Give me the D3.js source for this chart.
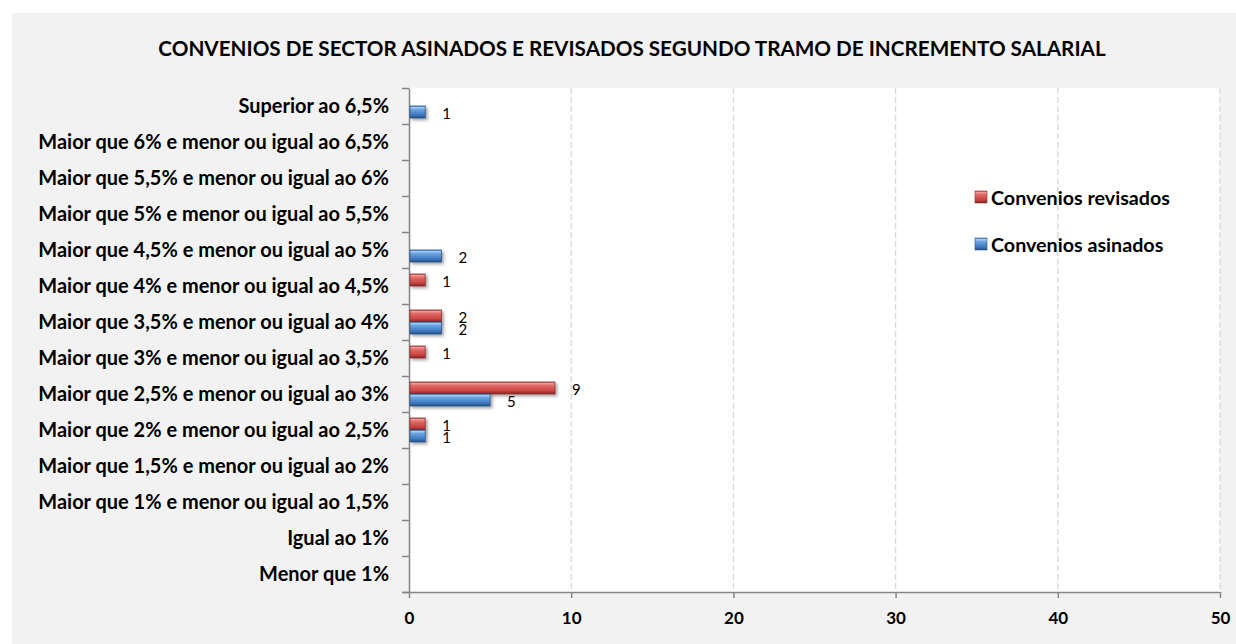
<!DOCTYPE html>
<html>
<head>
<meta charset="utf-8">
<script src="https://cdn.jsdelivr.net/npm/d3@7"></script>
<style>
  html, body { margin: 0; padding: 0; background: #ffffff; }
  svg { display: block; }
</style>
</head>
<body>
<svg id="chart" width="1236" height="644"></svg>
<script>
// ---------------- DATA ----------------
const categories = [
  "Menor que 1%",
  "Igual ao 1%",
  "Maior que 1% e menor ou igual ao 1,5%",
  "Maior que 1,5% e menor ou igual ao 2%",
  "Maior que 2% e menor ou igual ao 2,5%",
  "Maior que 2,5% e menor ou igual ao 3%",
  "Maior que 3% e menor ou igual ao 3,5%",
  "Maior que 3,5% e menor ou igual ao 4%",
  "Maior que 4% e menor ou igual ao 4,5%",
  "Maior que 4,5% e menor ou igual ao 5%",
  "Maior que 5% e menor ou igual ao 5,5%",
  "Maior que 5,5% e menor ou igual ao 6%",
  "Maior que 6% e menor ou igual ao 6,5%",
  "Superior ao 6,5%"
];
const asinados  = [null, null, null, null, 1, 5, null, 2, null, 2, null, null, null, 1];
const revisados = [null, null, null, null, 1, 9, 1, 2, 1, null, null, null, null, null];
const seriesNames = ["Convenios revisados", "Convenios asinados"];
const xTicks = [0, 10, 20, 30, 40, 50];
const titleText = "CONVENIOS DE SECTOR ASINADOS E REVISADOS SEGUNDO TRAMO DE INCREMENTO SALARIAL";

// ---------------- LAYOUT ----------------
const svg = d3.select("#chart");
const plot = { left: 409, right: 1220, top: 88, bottom: 592 };
const FONT = "Lato, 'Open Sans', sans-serif";

// background panel
svg.append("rect").attr("x", 12).attr("y", 13).attr("width", 1236 - 12).attr("height", 644 - 13).attr("fill", "#f2f2f2");
svg.append("rect").attr("x", plot.left).attr("y", plot.top)
  .attr("width", plot.right - plot.left).attr("height", plot.bottom - plot.top).attr("fill", "#ffffff");

// defs: gradients + shadow
const defs = svg.append("defs");
function grad(id, stops) {
  const g = defs.append("linearGradient").attr("id", id).attr("x1", 0).attr("y1", 0).attr("x2", 0).attr("y2", 1);
  stops.forEach(s => g.append("stop").attr("offset", s[0]).attr("stop-color", s[1]));
}
grad("gRed", [[0, "#c9504d"], [0.12, "#f09a97"], [0.3, "#e06a66"], [0.75, "#c8433f"], [1, "#7e2321"]]);
grad("gBlue", [[0, "#4a7fc0"], [0.12, "#a3cdf5"], [0.3, "#6aa2e0"], [0.75, "#3f78bf"], [1, "#234d80"]]);
const f = defs.append("filter").attr("id", "shadow").attr("x", "-20%").attr("y", "-40%").attr("width", "150%").attr("height", "200%");
f.append("feDropShadow").attr("dx", 2).attr("dy", 2).attr("stdDeviation", 1.5).attr("flood-color", "#000").attr("flood-opacity", 0.35);

// scales
const x = d3.scaleLinear().domain([0, 50]).range([plot.left, plot.right]);
const y = d3.scaleBand().domain(categories.slice().reverse()).range([plot.top, plot.bottom]).paddingInner(0).paddingOuter(0);
const yInner = d3.scaleBand().domain(seriesNames).range([0, y.bandwidth()]).paddingInner(0).paddingOuter(0.5);
const yIdx = d3.scaleLinear().domain([0, categories.length]).range([plot.bottom, plot.top]);

// gridlines
svg.append("g").selectAll("line").data(xTicks.filter(d => d > 0)).join("line")
  .attr("x1", d => x(d)).attr("x2", d => x(d))
  .attr("y1", plot.top).attr("y2", plot.bottom)
  .attr("stroke", "#d9d9d9").attr("stroke-width", 1.3).attr("stroke-dasharray", "6,3");

// title
const title = svg.append("text").attr("x", 632).attr("y", 48)
  .attr("text-anchor", "middle").attr("dominant-baseline", "central")
  .attr("font-family", FONT).attr("font-weight", "bold").attr("font-size", 16).attr("fill", "#000")
  .text(titleText);
function fitWidth(sel, target) {
  const fs = +sel.attr("font-size");
  const w = sel.node().getComputedTextLength();
  sel.attr("font-size", fs * target / w);
}
fitWidth(title, 948);

// y axis (ticks at category boundaries)
const yAxisG = svg.append("g").attr("transform", `translate(${plot.left},0)`)
  .call(d3.axisLeft(yIdx).tickValues(d3.range(categories.length + 1)).tickFormat("").tickSize(7).tickSizeOuter(0));
yAxisG.select(".domain").attr("stroke", "#868686").attr("stroke-width", 1.5);
yAxisG.selectAll(".tick line").attr("stroke", "#868686").attr("stroke-width", 1.5);

// category labels
const labG = svg.append("g").attr("transform", `translate(${plot.left},0)`)
  .call(d3.axisLeft(y).tickSize(0).tickPadding(20));
labG.select(".domain").remove();
labG.selectAll("text").attr("font-family", FONT).attr("font-weight", "bold").attr("font-size", 15).attr("fill", "#000").attr("dy", "0.35em");
// fit font size so the reference label width matches
(function () {
  const ref = labG.selectAll("text").filter(d => d === "Maior que 1,5% e menor ou igual ao 2%");
  const w = ref.node().getComputedTextLength();
  const fs = 15 * 351 / w;
  labG.selectAll("text").attr("font-size", fs);
})();

// x axis
const xAxisG = svg.append("g").attr("transform", `translate(0,${plot.bottom})`)
  .call(d3.axisBottom(x).tickValues(xTicks).tickSize(6).tickSizeOuter(0).tickPadding(14));
xAxisG.select(".domain").attr("d", `M${plot.left - 7},0.5H${plot.right}`).attr("stroke", "#868686").attr("stroke-width", 1.5);
xAxisG.selectAll(".tick line").attr("stroke", "#868686").attr("stroke-width", 1.5);
xAxisG.selectAll("text").attr("font-family", FONT).attr("font-weight", "bold").attr("font-size", 17).attr("fill", "#000");

// bars
const barData = [];
categories.forEach((c, i) => {
  if (revisados[i] != null) barData.push({ cat: c, series: seriesNames[0], v: revisados[i], fill: "url(#gRed)", stroke: "#8b2d2a" });
  if (asinados[i] != null) barData.push({ cat: c, series: seriesNames[1], v: asinados[i], fill: "url(#gBlue)", stroke: "#2c5585" });
});
const barsG = svg.append("g");
barsG.selectAll("rect").data(barData).join("rect")
  .attr("x", x(0) + 1)
  .attr("y", d => y(d.cat) + yInner(d.series))
  .attr("width", d => x(d.v) - x(0) - 1)
  .attr("height", yInner.bandwidth())
  .attr("fill", d => d.fill)
  .attr("stroke", d => d.stroke).attr("stroke-width", 0.8)
  .attr("filter", "url(#shadow)");

// data labels
svg.append("g").selectAll("text").data(barData).join("text")
  .attr("x", d => x(d.v) + 17)
  .attr("y", d => y(d.cat) + yInner(d.series) + yInner.bandwidth() / 2 + 1)
  .attr("dominant-baseline", "central")
  .attr("font-family", FONT).attr("font-size", 15).attr("fill", "#000")
  .text(d => d.v);

// legend
const legendItems = [
  { name: seriesNames[0], fill: "url(#gRed)", stroke: "#8b2d2a", y: 197 },
  { name: seriesNames[1], fill: "url(#gBlue)", stroke: "#2c5585", y: 244 }
];
const lg = svg.append("g");
const li = lg.selectAll("g").data(legendItems).join("g").attr("transform", d => `translate(975,${d.y})`);
li.append("rect").attr("x", 0).attr("y", -6).attr("width", 12).attr("height", 12)
  .attr("fill", d => d.fill).attr("stroke", d => d.stroke).attr("stroke-width", 0.6);
const lt = li.append("text").attr("x", 16).attr("y", 0).attr("dominant-baseline", "central")
  .attr("font-family", FONT).attr("font-weight", "bold").attr("font-size", 16).attr("fill", "#000")
  .text(d => d.name);
(function () {
  const w = lt.filter(d => d.name === seriesNames[0]).node().getComputedTextLength();
  lt.attr("font-size", 16 * 179 / w);
})();
</script>
</body>
</html>
